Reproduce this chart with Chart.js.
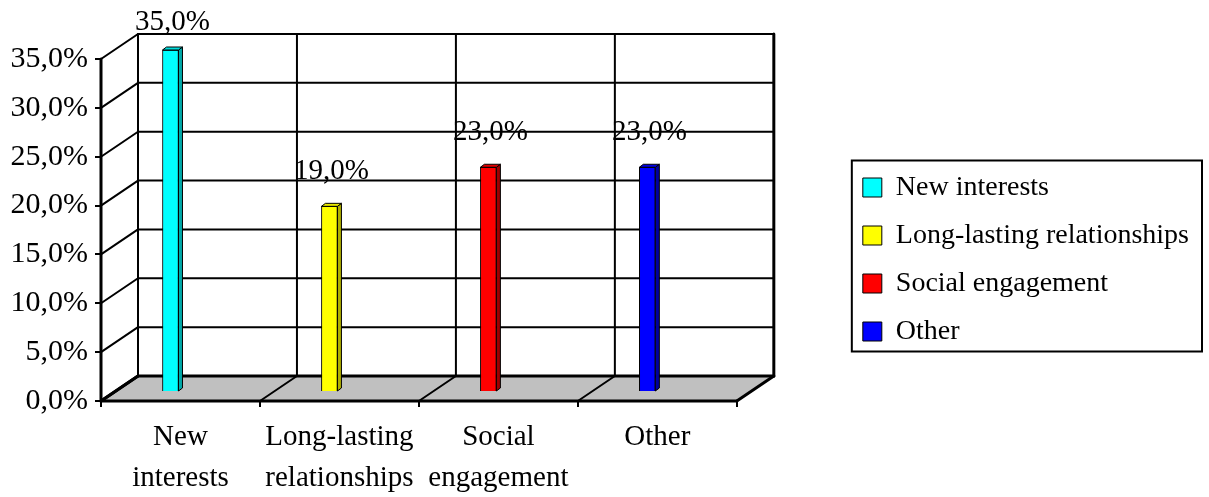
<!DOCTYPE html>
<html><head><meta charset="utf-8">
<script src="https://cdn.jsdelivr.net/npm/chart.js@4.4.1/dist/chart.umd.min.js"></script>
<style>html,body{margin:0;padding:0;background:#fff;}canvas{display:block;}</style>
</head><body>
<canvas id="c" width="1209" height="497"></canvas>
<script>
const categories = [['New','interests'],['Long-lasting','relationships'],['Social','engagement'],['Other']];
const legendLabels = ['New interests','Long-lasting relationships','Social engagement','Other'];
const values = [35.0, 19.0, 23.0, 23.0];
const barColors = ['#00FFFF','#FFFF00','#FF0000','#0000FF'];
const sideColors = ['#00A8A8','#B0B000','#A00000','#0000A0'];
const topColors = ['#00DCDC','#E8E800','#E00000','#0000E0'];
const yMin = 0, yMax = 35, yStep = 5;

const FONT = "'Liberation Serif','Times New Roman',serif";
Chart.defaults.font.family = FONT;
Chart.defaults.font.size = 29;
Chart.defaults.color = '#000';

const DX = 37, DY = -25;        // depth of the 3D box
const BAR_DX = -10, BAR_DY = -9; // bar placement inside depth
const FDX = 4, FDY = -3;         // bar thickness (side/top faces)

function fmt(v){ return v.toFixed(1).replace('.', ',') + '%'; }

function line(ctx, x1, y1, x2, y2, w){
  ctx.lineWidth = w; ctx.beginPath(); ctx.moveTo(x1, y1); ctx.lineTo(x2, y2); ctx.stroke();
}

const threeD = {
  id: 'threeD',
  beforeDatasetsDraw(chart){
    const {ctx, chartArea: a, scales: {x, y}} = chart;
    const L = a.left, R = a.right, T = a.top, B = a.bottom;
    ctx.save();
    ctx.fillStyle = '#C0C0C0';
    ctx.beginPath(); ctx.moveTo(L, B); ctx.lineTo(R, B); ctx.lineTo(R + DX, B + DY); ctx.lineTo(L + DX, B + DY); ctx.closePath(); ctx.fill();
    ctx.strokeStyle = '#000';
    ctx.lineCap = 'round';
    y.ticks.forEach(t => {
      const py = y.getPixelForValue(t.value);
      const w = t.value === yMin ? 3 : 2;
      line(ctx, L + DX, py + DY, R + DX, py + DY, w);
      line(ctx, L, py, L + DX, py + DY, w);
    });
    const n = x.ticks.length;
    for (let i = 0; i <= n; i++) {
      const bx = x.getPixelForValue(i - 0.5);
      line(ctx, bx + DX, T + DY, bx + DX, B + DY, (i === n) ? 3 : 2);
      line(ctx, bx, B, bx + DX, B + DY, (i === 0 || i === n) ? 3 : 2);
    }
    line(ctx, L, T, L, B, 3);
    line(ctx, L, B, R, B, 3);
    ctx.restore();
    ctx.save();
    ctx.translate(BAR_DX, BAR_DY);
  },
  afterDatasetsDraw(chart){
    const ctx = chart.ctx;
    const meta = chart.getDatasetMeta(0);
    meta.data.forEach((el, i) => {
      const {x, y, base, width} = el.getProps(['x','y','base','width'], true);
      const l = x - width/2, r = x + width/2;
      ctx.strokeStyle = '#000'; ctx.lineWidth = 1;
      ctx.fillStyle = sideColors[i];
      ctx.beginPath(); ctx.moveTo(r, y); ctx.lineTo(r + FDX, y + FDY); ctx.lineTo(r + FDX, base + FDY); ctx.lineTo(r, base); ctx.closePath(); ctx.fill(); ctx.stroke();
      ctx.fillStyle = topColors[i];
      ctx.beginPath(); ctx.moveTo(l, y); ctx.lineTo(l + FDX, y + FDY); ctx.lineTo(r + FDX, y + FDY); ctx.lineTo(r, y); ctx.closePath(); ctx.fill(); ctx.stroke();
    });
    ctx.restore();
    ctx.save();
    ctx.font = '29px ' + FONT;
    ctx.fillStyle = '#000';
    ctx.textAlign = 'center';
    ctx.textBaseline = 'middle';
    meta.data.forEach((el, i) => {
      const {x, y} = el.getProps(['x','y'], true);
      const ty = Math.max(y + BAR_DY - 35, 22);
      ctx.fillText(fmt(values[i]), x + BAR_DX + 2, ty);
    });
    ctx.restore();
  },
  afterDraw(chart){
    const hb = chart.legend && chart.legend.legendHitBoxes;
    if (!hb || !hb.length) return;
    const ctx = chart.ctx;
    const left = hb[0].left - 11;
    const right = Math.max(...hb.map(h => h.left + h.width)) + 13;
    const top = hb[0].top - 13;
    const last = hb[hb.length - 1];
    const bottom = last.top + last.height + 6;
    ctx.save();
    ctx.strokeStyle = '#000'; ctx.lineWidth = 2;
    ctx.strokeRect(left, top, right - left, bottom - top);
    ctx.restore();
  }
};

new Chart(document.getElementById('c').getContext('2d'), {
  type: 'bar',
  data: {
    labels: categories,
    datasets: [{ data: values, backgroundColor: barColors, borderColor: '#000', borderWidth: 1, barThickness: 16, clip: false }]
  },
  options: {
    responsive: false, animation: false, devicePixelRatio: 1,
    layout: { padding: { top: 22, left: 0, right: 10, bottom: 0 } },
    plugins: {
      tooltip: { enabled: false },
      legend: {
        position: 'right', align: 'center', maxWidth: 420,
        labels: {
          boxWidth: 19, boxHeight: 19, padding: 20, color: '#000',
          font: { size: 28, family: FONT },
          generateLabels: () => legendLabels.map((t, i) => ({
            text: t, fillStyle: barColors[i], strokeStyle: '#000', lineWidth: 1, hidden: false, index: i, datasetIndex: 0
          }))
        }
      }
    },
    scales: {
      x: {
        position: 'bottom', offset: true,
        grid: { offset: true, drawOnChartArea: false, drawTicks: true, tickLength: 6, color: '#000', lineWidth: 2 },
        border: { display: false },
        ticks: { autoSkip: false, maxRotation: 0, padding: 10, font: { size: 29, lineHeight: 1.41 } },
        afterFit: s => { s.height = 96; }
      },
      y: {
        position: 'left', min: yMin, max: yMax,
        grid: { drawOnChartArea: false, drawTicks: true, tickLength: 6, color: '#000', lineWidth: 2 },
        border: { display: false },
        ticks: { stepSize: yStep, padding: 7, font: { size: 30 }, callback: v => fmt(v) },
        afterFit: s => { s.width = 101; }
      },
      xTop: {
        type: 'linear', position: 'top', display: true, min: 0, max: 1,
        grid: { display: false }, ticks: { display: false }, border: { display: false },
        afterFit: s => { s.height = 37; }
      },
      yRight: {
        type: 'linear', position: 'right', display: true, min: 0, max: 1,
        grid: { display: false }, ticks: { display: false }, border: { display: false },
        afterFit: s => { s.width = 106; }
      }
    }
  },
  plugins: [threeD]
});
</script>
</body></html>
